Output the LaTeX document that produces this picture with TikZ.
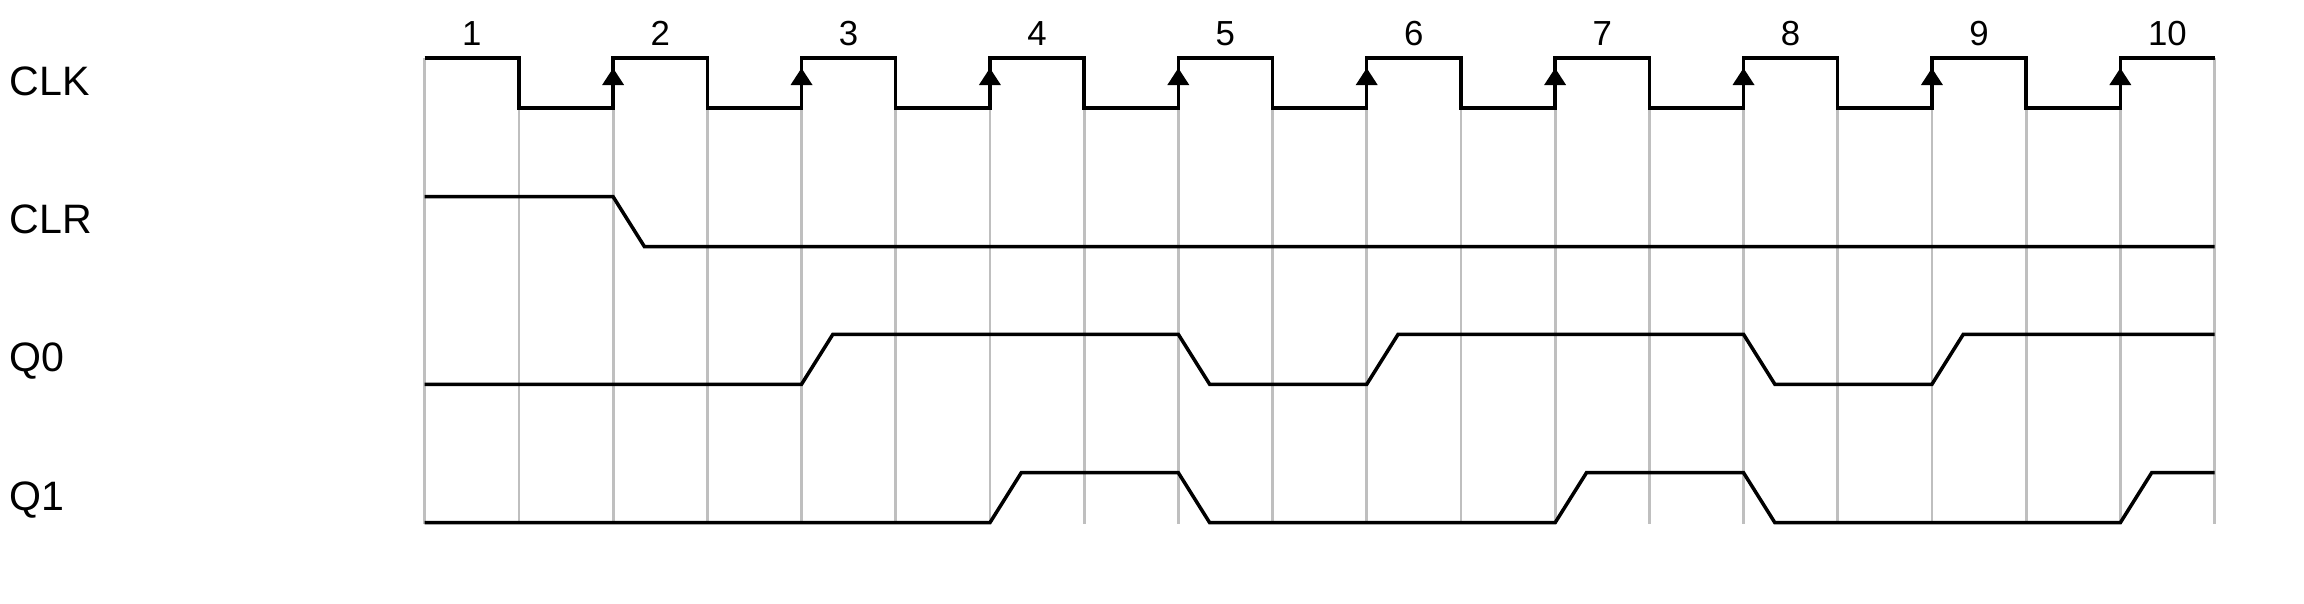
\documentclass[tikz,border=0pt]{standalone}
\usepackage{fontspec}
\setmainfont{Liberation Sans}
\usetikzlibrary{arrows.meta}

\begin{document}
\begin{tikzpicture}[sig/.style = {line width=1pt}, 
    gridline/.style = {black!25, line width=0.8pt},
    signame/.style = {anchor=base west, inner sep=0, font=\fontsize{11.7}{12}\selectfont},
    cyclenum/.style = {anchor=base, inner sep=0, font=\fontsize{9.9}{10}\selectfont},
    edge/.style = {-{Triangle[length=0.17cm, width=0.21cm]}, line width=1pt}]

      \useasboundingbox (0,0) rectangle (23.04,-6.03);

      \node[signame] (CLK) at (0.09,-0.95) {CLK};
      \node[signame] (CLR) at (0.09,-2.33) {CLR};
      \node[signame] (Q0) at (0.09,-3.717) {Q0};
      \node[signame] (Q1) at (0.09,-5.10) {Q1};

      \begin{scope}[shift={(4.247,0)}, x=0.942cm]

        \foreach \i in {0, ..., 19}
          \draw[gridline] (\i,-0.58) -- (\i,-5.24);

        \foreach \n [evaluate=\n as \pos using {2*\n-1.5}] in {1, ..., 10}
          \node[cyclenum] (N_\n) at (\pos,-0.45) {\n};

        \draw[sig] (0,-0.58) foreach \i in {1, ..., 9} { -- ++(1,0) -- ++(0,-0.5) -- ++(1,0) -- ++(0,0.5) } -- ++(1,0);

        \foreach \i [evaluate=\i as \pos using {2*\i}] in {1, ..., 9}
          \draw[edge] (\pos,-1.08) -- (\pos,-0.68);

        \draw[sig] (0,-1.967) -- (2,-1.967) -- (2.333,-2.467) -- (19,-2.467);

        \draw[sig] (0,-3.843) -- (4,-3.843) -- (4.333,-3.343) -- (8,-3.343) -- (8.333,-3.843)
          -- (10,-3.843) -- (10.333,-3.343) -- (14,-3.343) -- (14.333,-3.843)
          -- (16,-3.843) -- (16.333,-3.343) -- (19,-3.343);

        \draw[sig] (0,-5.227) -- (6,-5.227) -- (6.333,-4.727) -- (8,-4.727) -- (8.333,-5.227)
          -- (12,-5.227) -- (12.333,-4.727) -- (14,-4.727) -- (14.333,-5.227)
          -- (18,-5.227) -- (18.333,-4.727) -- (19,-4.727);

      \end{scope}

      \end{tikzpicture}
\end{document}
